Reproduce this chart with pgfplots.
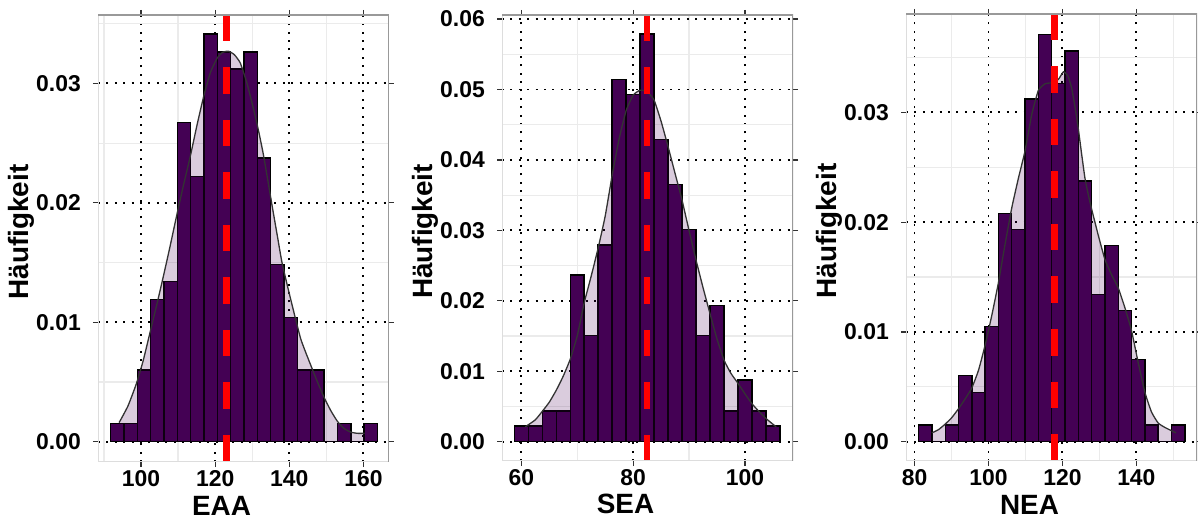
\documentclass[border=0pt]{standalone}
\usepackage{fontspec}
\setmainfont{Liberation Sans}
\usepackage{pgfplots}
\usepackage{pgfplotstable}
\pgfplotsset{compat=1.18}
\definecolor{barpurple}{HTML}{440154}
\definecolor{framedark}{HTML}{999999}
\definecolor{framelight}{HTML}{DDDDDD}
\definecolor{minorgrid}{HTML}{EBEBEB}

% histogram bars (left edges, density); last row closes the interval
\pgfplotstableread{
x y
91.8 0.00154
95.4 0.00154
99.0 0.0060
102.6 0.01193
106.2 0.01341
109.8 0.02673
113.4 0.02221
117.0 0.03413
120.6 0.03263
124.2 0.0312
127.8 0.03263
131.4 0.02374
135.0 0.01486
138.6 0.01042
142.2 0.0060
145.8 0.0060
149.4 0
153.0 0.00154
156.6 0
160.2 0.00154
163.8 0
}\barsA
\pgfplotstableread{
x y
94.1 0.0016
96.5 0.0030
98.8 0.0049
100.6 0.0068
102.4 0.0091
104.2 0.0114
106.0 0.0138
107.8 0.0163
109.6 0.0189
111.4 0.0214
113.3 0.0239
115.1 0.0265
116.9 0.0289
118.7 0.0309
120.5 0.0321
122.0 0.0326
123.6 0.0327
125.2 0.0324
126.8 0.0317
128.6 0.0300
130.4 0.0278
131.8 0.0259
133.1 0.0239
135.4 0.0197
136.8 0.0172
138.1 0.0149
140.4 0.0119
143.1 0.0086
145.8 0.0064
147.6 0.0050
149.4 0.0037
151.2 0.0026
153.0 0.0017
154.8 0.0011
156.6 0.0008
158.4 0.0007
160.3 0.0007
}\densA

\pgfplotstableread{
x y
58.75 0.00222
61.25 0.00222
63.75 0.00435
66.25 0.00435
68.75 0.02366
71.25 0.01505
73.75 0.02792
76.25 0.05144
78.75 0.04931
81.25 0.05788
83.75 0.04288
86.25 0.03649
88.75 0.03015
91.25 0.01505
93.75 0.01936
96.25 0.00435
98.75 0.00876
101.25 0.00435
103.75 0.00222
106.25 0
}\barsB
\pgfplotstableread{
x y
60.7 0.0021
62.5 0.0031
63.75 0.0043
65.0 0.0056
66.25 0.0073
67.5 0.0093
68.75 0.0117
70.0 0.0150
71.25 0.0197
72.5 0.0235
73.75 0.0275
75.0 0.0320
76.25 0.0378
77.5 0.0430
78.75 0.0470
80.0 0.0492
81.25 0.0499
82.5 0.0497
83.75 0.0485
85.0 0.0455
86.25 0.0419
87.5 0.0381
88.75 0.0343
90.0 0.0300
91.25 0.0258
92.5 0.0219
93.75 0.0182
95.0 0.0146
96.25 0.0116
97.5 0.0097
98.75 0.0083
100.0 0.0068
101.25 0.0054
102.5 0.0043
103.75 0.0033
105.6 0.0021
}\densB

\pgfplotstableread{
x y
81.1 0.00152
84.7 0
88.3 0.00152
91.9 0.00601
95.5 0.00449
99.1 0.01048
102.7 0.0208
106.3 0.01934
109.9 0.03122
113.5 0.03711
117.1 0.03264
120.7 0.03559
124.3 0.02375
127.9 0.01342
131.5 0.01786
135.1 0.01193
138.7 0.0075
142.3 0.00152
145.9 0
149.5 0.00152
153.1 0
}\barsC
\pgfplotstableread{
x y
84.7 0.0008
86.5 0.0011
88.3 0.0016
90.1 0.0022
91.9 0.0030
93.7 0.0039
95.5 0.0049
97.3 0.0065
99.1 0.0088
100.9 0.0115
102.7 0.0145
104.5 0.0180
106.3 0.0213
108.1 0.0240
109.9 0.0265
111.7 0.0298
113.5 0.0320
115.3 0.0326
117.1 0.0327
118.9 0.0330
120.3 0.0337
121.5 0.0333
122.5 0.0322
123.4 0.0305
124.3 0.0285
125.2 0.0262
126.1 0.0240
127.0 0.0225
127.9 0.0212
129.7 0.0188
131.5 0.0166
133.3 0.0152
135.1 0.0140
136.9 0.0122
138.7 0.0101
140.5 0.0072
142.3 0.0045
144.1 0.0027
145.9 0.0017
147.7 0.0013
149.5 0.0010
150.7 0.0008
}\densC

\pgfplotsset{
  hist/.style={
    scale only axis, width=291bp, height=447bp,
    anchor=south west,
    axis line style={draw=none},
    tick align=outside,
    major tick length=5bp,
    minor tick length=0pt,
    tick style={black!80, line width=1.2bp},
    scaled x ticks=false, scaled y ticks=false,
    xmajorgrids, ymajorgrids, xminorgrids, yminorgrids,
    major grid style={black, line width=1.9bp, dash pattern=on 1.9bp off 6.5bp},
    minor grid style={minorgrid, line width=1.2bp},
    /pgf/number format/assume math mode=true,
    tick label style={font=\fontsize{23}{23}\selectfont\bfseries, inner sep=0pt},
    xticklabel style={anchor=base, yshift=-19bp},
    yticklabel style={anchor=east, xshift=-12bp},
    label style={font=\fontsize{28}{28}\selectfont\bfseries},
    xlabel style={at={(axis description cs:0.4244,-0.1186)}, anchor=base, inner sep=0pt},
    ylabel style={at={(axis description cs:-0.2646,0.5145)}, anchor=center, inner sep=0pt},
    ylabel={Häufigkeit},
  },
  bars/.style={ybar interval, fill=barpurple, draw=black, line width=1.4bp},
  densfill/.style={draw=none, fill=barpurple, fill opacity=0.2},
  densline/.style={black!80, line width=1.3bp, smooth, tension=0.3},
  meanline/.style={red, line width=6.5bp, dash pattern=on 26.5bp off 26bp},
}

\begin{document}
\begin{tikzpicture}
\useasboundingbox (0,0) rectangle (1198bp,524bp);

% ---------- EAA ----------
\begin{axis}[hist, at={(98bp,62bp)},
  xmin=88.4, xmax=166.9, ymin=-0.0017, ymax=0.03573,
  xtick={100,120,140,160}, xticklabels={100,120,140,160},
  minor xtick={90,110,130,150},
  ytick={0,0.01,0.02,0.03}, yticklabels={0.00,0.01,0.02,0.03},
  minor ytick={0.005,0.015,0.025,0.035},
  xlabel={EAA}]
  \addplot[bars] table {\barsA};
  \addplot[densfill] table {\densA} \closedcycle;
  \addplot[densline] table {\densA};
  \addplot[meanline] coordinates {(123.0,0.03573) (123.0,-0.0017)};
  \draw[framelight, line width=1.5bp] (rel axis cs:0,1) -- (rel axis cs:0,0) -- (rel axis cs:1,0);
  \draw[framedark, line width=1.8bp] (rel axis cs:0,1) -- (rel axis cs:1,1) -- (rel axis cs:1,0);
\end{axis}

% ---------- SEA ----------
\begin{axis}[hist, at={(502bp,63bp)}, height=446bp,
  xmin=56.55, xmax=108.6, ymin=-0.00274, ymax=0.06058,
  xtick={60,80,100}, xticklabels={60,80,100},
  minor xtick={70,90},
  ytick={0,0.01,0.02,0.03,0.04,0.05,0.06},
  yticklabels={0.00,0.01,0.02,0.03,0.04,0.05,0.06},
  minor ytick={0.005,0.015,0.025,0.035,0.045,0.055},
  xlabel={SEA}]
  \addplot[bars] table {\barsB};
  \addplot[densfill] table {\densB} \closedcycle;
  \addplot[densline] table {\densB};
  \addplot[meanline] coordinates {(82.5,0.06058) (82.5,-0.00274)};
  \draw[framelight, line width=1.5bp] (rel axis cs:0,1) -- (rel axis cs:0,0) -- (rel axis cs:1,0);
  \draw[framedark, line width=1.8bp] (rel axis cs:0,1) -- (rel axis cs:1,1) -- (rel axis cs:1,0);
\end{axis}

% ---------- NEA ----------
\begin{axis}[hist, at={(906bp,63bp)},
  xmin=77.7, xmax=156.4, ymin=-0.00176, ymax=0.03896,
  xtick={80,100,120,140}, xticklabels={80,100,120,140},
  minor xtick={90,110,130,150},
  ytick={0,0.01,0.02,0.03}, yticklabels={0.00,0.01,0.02,0.03},
  minor ytick={0.005,0.015,0.025,0.035},
  xlabel={NEA}]
  \addplot[bars] table {\barsC};
  \addplot[densfill] table {\densC} \closedcycle;
  \addplot[densline] table {\densC};
  \addplot[meanline] coordinates {(117.8,0.03896) (117.8,-0.00176)};
  \draw[framelight, line width=1.5bp] (rel axis cs:0,1) -- (rel axis cs:0,0) -- (rel axis cs:1,0);
  \draw[framedark, line width=1.8bp] (rel axis cs:0,1) -- (rel axis cs:1,1) -- (rel axis cs:1,0);
\end{axis}
\end{tikzpicture}
\end{document}
